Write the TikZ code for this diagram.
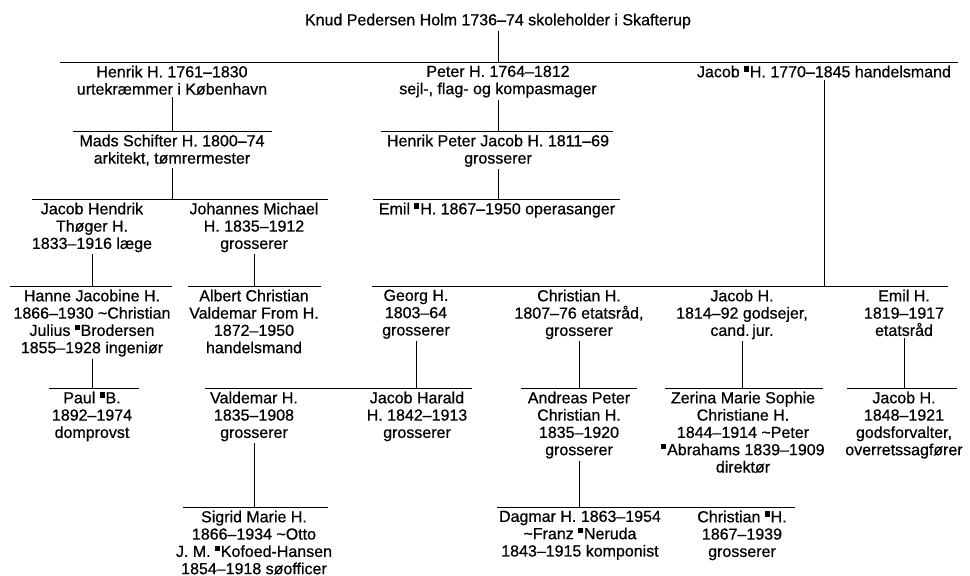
\documentclass[tikz,border=0pt]{standalone}
\usepackage{fontspec}
\setmainfont{Liberation Sans}[FakeBold=0.6]
\usepackage{tikz}
\newcommand\xr{\rule[0.36em]{0.3em}{0.34em}\kern0.06em}

\begin{document}
\begin{tikzpicture}[x=1pt, y=-1pt, font=\fontsize{16}{17.3}\selectfont,
  p/.style={align=center,anchor=north,inner xsep=0pt,inner ysep=2pt},
  ln/.style={line width=1pt}]
\useasboundingbox (0,0) rectangle (970,576);
\coordinate (k1) at (60,62);   \coordinate (k2) at (958,62);
\coordinate (h1) at (73,131);  \coordinate (h2) at (272,131);
\coordinate (pe1) at (381,131); \coordinate (pe2) at (613,131);
\coordinate (m1) at (32,199);  \coordinate (m2) at (328,199);
\coordinate (hp1) at (373,199); \coordinate (hp2) at (620,199);
\coordinate (jh1) at (10,286); \coordinate (jh2) at (172,286);
\coordinate (jo1) at (188,286); \coordinate (jo2) at (321,286);
\coordinate (ja1) at (372,286); \coordinate (ja2) at (948,286);
\coordinate (ha1) at (49,388); \coordinate (ha2) at (139,388);
\coordinate (g1) at (205,388); \coordinate (g2) at (472,388);
\coordinate (c1) at (521,388); \coordinate (c2) at (637,388);
\coordinate (jb1) at (665,388); \coordinate (jb2) at (823,388);
\coordinate (e1) at (847,388); \coordinate (e2) at (957,388);
\coordinate (v1) at (183,507); \coordinate (v2) at (328,507);
\coordinate (a1) at (497,507); \coordinate (a2) at (795,507);

\node[p] (knud) at (498,11.5) {Knud Pedersen Holm 1736–74 skoleholder i Skafterup};
\node[p] (henrik) at (172,63.5) {Henrik H. 1761–1830\\urtekræmmer i København};
\node[p] (peter) at (498,63.5) {Peter H. 1764–1812\\sejl-, flag- og kompasmager};
\node[p] (jacA) at (824,63.5) {Jacob \xr H. 1770–1845 handelsmand};
\node[p] (mads) at (172,132.5) {Mads Schifter H. 1800–74\\arkitekt, tømrermester};
\node[p] (hpj) at (498,132.5) {Henrik Peter Jacob H. 1811–69\\grosserer};
\node[p] (jhend) at (92,200.5) {Jacob Hendrik\\Thøger H.\\1833–1916 læge};
\node[p] (johan) at (254,200.5) {Johannes Michael\\H. 1835–1912\\grosserer};
\node[p] (emilA) at (497,200.5) {Emil \xr H. 1867–1950 operasanger};
\node[p] (hanne) at (92,287.5) {Hanne Jacobine H.\\1866–1930 \textasciitilde Christian\\Julius \xr Brodersen\\1855–1928 ingeniør};
\node[p] (albert) at (254,287.5) {Albert Christian\\Valdemar From H.\\1872–1950\\handelsmand};
\node[p] (georg) at (416,287.5) {Georg H.\\1803–64\\grosserer};
\node[p] (chrA) at (579,287.5) {Christian H.\\1807–76 etatsråd,\\grosserer};
\node[p] (jacB) at (742,287.5) {Jacob H.\\1814–92 godsejer,\\cand.\,jur.};
\node[p] (emilB) at (904,287.5) {Emil H.\\1819–1917\\etatsråd};
\node[p] (paul) at (92,389.5) {Paul \xr B.\\1892–1974\\domprovst};
\node[p] (valde) at (254,389.5) {Valdemar H.\\1835–1908\\grosserer};
\node[p] (harald) at (417,389.5) {Jacob Harald\\H. 1842–1913\\grosserer};
\node[p] (andreas) at (579,389.5) {Andreas Peter\\Christian H.\\1835–1920\\grosserer};
\node[p] (zerina) at (743,389.5) {Zerina Marie Sophie\\Christiane H.\\1844–1914 \textasciitilde Peter\\\xr Abrahams 1839–1909\\direktør};
\node[p] (jacC) at (904,389.5) {Jacob H.\\1848–1921\\godsforvalter,\\overretssagfører};
\node[p] (sigrid) at (254,508.5) {Sigrid Marie H.\\1866–1934 \textasciitilde Otto\\J. M. \xr Kofoed-Hansen\\1854–1918 søofficer};
\node[p] (dagmar) at (580,508.5) {Dagmar H. 1863–1954\\\textasciitilde Franz \xr Neruda\\1843–1915 komponist};
\node[p] (chrB) at (742,508.5) {Christian \xr H.\\1867–1939\\grosserer};

\draw[ln] (k1)--(k2); \draw[ln] (h1)--(h2); \draw[ln] (pe1)--(pe2);
\draw[ln] (m1)--(m2); \draw[ln] (hp1)--(hp2); \draw[ln] (jh1)--(jh2);
\draw[ln] (jo1)--(jo2); \draw[ln] (ja1)--(ja2); \draw[ln] (ha1)--(ha2);
\draw[ln] (g1)--(g2); \draw[ln] (c1)--(c2); \draw[ln] (jb1)--(jb2);
\draw[ln] (e1)--(e2); \draw[ln] (v1)--(v2); \draw[ln] (a1)--(a2);
\draw[ln] (knud)--(knud |- k1); \draw[ln] (henrik)--(henrik |- h1);
\draw[ln] (peter)--(peter |- pe1); \draw[ln] (jacA)--(jacA |- ja1);
\draw[ln] (mads)--(mads |- m1); \draw[ln] (hpj)--(hpj |- hp1);
\draw[ln] (jhend)--(jhend |- jh1); \draw[ln] (johan)--(johan |- jo1);
\draw[ln] (hanne)--(hanne |- ha1); \draw[ln] (georg)--(georg |- g1);
\draw[ln] (chrA)--(chrA |- c1); \draw[ln] (jacB)--(jacB |- jb1);
\draw[ln] (emilB)--(emilB |- e1); \draw[ln] (valde)--(valde |- v1);
\draw[ln] (andreas)--(andreas |- a1);
\end{tikzpicture}
\end{document}
